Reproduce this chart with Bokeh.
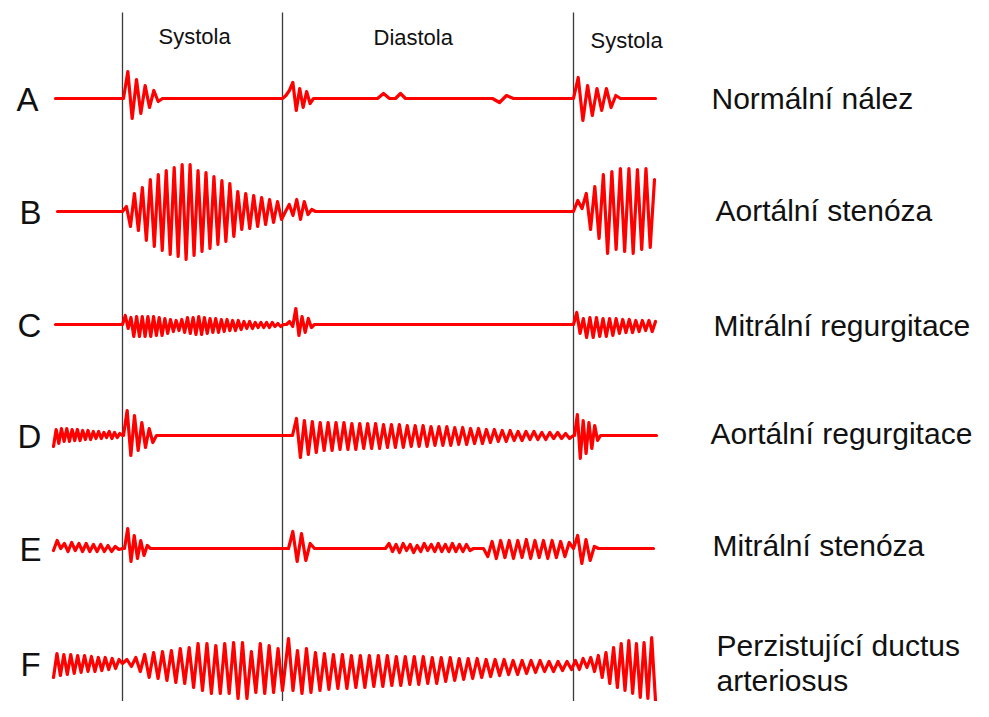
import numpy as np
from bokeh.plotting import figure
from bokeh.models import Range1d
from bokeh.core.properties import value
from bokeh.embed import file_html
from bokeh.resources import INLINE

# ---------------- data ----------------
# time axis expressed in the picture's horizontal units; each burst is
# (t_start, t_end, signed peak deflections spread evenly between them)
PHASE_BOUNDS = [122, 282, 573]
PHASE_NAMES = ["Systola", "Diastola", "Systola"]

ROW_LETTERS = ["A", "B", "C", "D", "E", "F"]
ROW_LABELS = ["Normální nález", "Aortální stenóza", "Mitrální regurgitace",
              "Aortální regurgitace", "Mitrální stenóza",
              "Perzistující ductus\narteriosus"]

ROW_A = [
    (55, 123, [0, 0]),
    (123, 162, [0, 27, -20, 19, -15, 13, -9, 8, -3, 0]),
    (282, 313, [0, 3, 8, 16, -12, 10, -9, 7, -5, 0]),
    (377, 389, [0, 5, 0]),
    (395, 405, [0, 5, 0]),
    (492, 513, [0, -4, 3, 0]),
    (573, 620, [0, 21, -22, 13, -17, 10, -12, 10, -9, 3, 0]),
    (655, 655, [0]),
]
ROW_B = [
    (57, 122, [0, 0]),
    (122, 285, [0, 5, -15, 18, -19, 24, -29, 32, -35, 37, -39, 41, -43, 44, -45,
                47, -48, 47, -44, 41, -40, 39, -37, 35, -33, 31, -30, 28, -25, 20,
                -18, 18, -17, 16, -15, 14, -13, 12, -11, 10, -8, 0]),
    (285, 315, [0, 7, -4, 12, -8, 10, -3, 2, 0]),
    (573, 654, [0, 11, 3, 18, -18, 25, -27, 37, -42, 40, -38, 43, -40, 43, -42,
                42, -38, 43, -36, 32]),
]
ROW_C = [
    (55, 122, [0, 0]),
    (122, 283, [0, 9, -4, 7, -12, 8, -12, 8, -12, 8, -12,
                8, -11, 7, -11, 6, -9, 5, -7, 4, -6,
                5, -8, 7, -9, 7, -10, 8, -10, 7, -9,
                6, -8, 6, -8, 5, -7, 5, -6, 4, -6,
                4, -5, 3, -4, 3, -4, 2, -3, 2, -3,
                2, -3, 2, -2, 1, -2, 0]),
    (286, 314, [0, 3, -2, 16, -11, 8, -8, 6, -3, 0]),
    (573, 655, [0, 12, -9, 6, -13, 7, -13, 7, -12, 6, -12, 6, -11, 6, -9, 5, -8,
                5, -8, 4, -7, 4, -6, 4, -7, 3]),
]
ROW_D = [
    (53, 122, [-11, 6, -8, 7, -6, 7, -6, 6, -5, 6, -5, 5, -4, 5, -4, 4, -3, 4,
               -3, 3, -2, 4, -3, 3, -2, 2, 0]),
    (123, 156, [0, 25, -20, 20, -15, 13, -12, 7, -7, 0]),
    (292, 573, [0,
                17, -22, 15, -19, 14, -17, 13, -15, 13, -15, 13, -14, 13, -14, 12, -14, 12, -13, 12, -13,
                12, -13, 11, -12, 11, -12, 11, -12, 10, -11, 10, -11, 10, -11, 9, -10, 9, -10, 9, -10,
                8, -9, 8, -9, 7, -8, 7, -8, 6, -7, 6, -6, 5, -6, 5, -5, 4, -5, 4, -4,
                4, -4, 3, -4, 3, -3, 3, -3, 2, -3,
                0]),
    (574, 600, [0, 21, -23, 15, -18, 13, -13, 10, -5, 0]),
    (656, 656, [0]),
]
ROW_E = [
    (53, 122, [-2, 8, 0, 5, -3, 6, -2, 5, -3, 5, -3, 4, -3, 4, -3, 3, -3, 2, -1, 0]),
    (124, 150, [0, 20, -13, 13, -10, 8, -7, 3, 0]),
    (288, 314, [0, 17, -13, 15, -12, 5, 0]),
    (385, 473, [0, 5, -3, 4, -4, 5, -2, 4, -4, 3, -3, 5, -2, 4, -3, 5, -3, 4, -3,
                5, -3, 4, -3, 4, -2, 0]),
    (483, 573, [0, -8, 7, -10, 8, -9, 8, -10, 8, -9, 9, -10, 8, -9, 8, -10, 8, -9,
                7, -8, 6, 0]),
    (573, 598, [0, 13, -15, 9, -12, 2, 0]),
    (653, 653, [0]),
]
ROW_F = [
    (53, 122, [-14, 10, -12, 9, -11, 9, -10, 8, -9, 8, -8, 7, -8, 6, -7, 6, -6,
               5, -5, 4, 0]),
    (122, 282, [0, 4, -3, 6, -8, 9, -14, 11, -15, 12, -17, 13, -19, 15, -20, 16,
                -24, 20, -27, 20, -30, 18, -30, 20, -30, 21, -35, 21, -35, 12, -29,
                20, -30, 18, -29, 15, -27]),
    (288, 571, [25, -27, 13, -30, 15, -29, 11, -27, 10, -26, 9, -25, 9, -25, 8, -24,
                8, -24, 8, -23, 8, -23, 8, -22, 7, -22, 7, -21, 7, -21, 7, -20,
                6, -20, 6, -18, 6, -17, 5, -16, 5, -15, 5, -14, 4, -13, 4, -12,
                4, -11, 3, -11, 3, -10, 3, -9, 3, -8, 2, -8, 2, -7, 2, -6]),
    (575, 655, [3, -6, 5, -4, 6, -8, 8, -14, 11, -20, 16, -24, 20, -27, 23, -30,
                20, -34, 21, -35, 26, -37]),
]
ROWS = [ROW_A, ROW_B, ROW_C, ROW_D, ROW_E, ROW_F]

# ---------------- layout ----------------
ROW_BASE = [98, 211, 324, 435, 548, 663]
LETTER_X = [16, 19, 17, 17, 19, 20]
LETTER_DY = 1
LABEL_X = [711, 715, 713, 710, 712, 716]
LABEL_Y = [98, 210, 325, 433, 545, 645]
LABEL_LINE = 35
PHASE_X = [158, 373, 590]
PHASE_Y = [36, 37, 40]

W, H = 973, 701
p = figure(width=W, height=H, output_backend="svg", toolbar_location=None,
           x_range=Range1d(0, W), y_range=Range1d(H, 0),
           min_border=0)
p.axis.visible = False
p.grid.visible = False
p.outline_line_color = None
p.background_fill_color = "white"
p.border_fill_color = "white"

# phase boundaries
p.segment(x0=PHASE_BOUNDS, x1=PHASE_BOUNDS, y0=[12] * 3, y1=[H] * 3,
          line_color="#3a3a3a", line_width=1.3)

# waveforms
for bursts, base in zip(ROWS, ROW_BASE):
    xs, ys = [], []
    for t0, t1, offs in bursts:
        xs.extend(np.linspace(t0, t1, len(offs)).tolist())
        ys.extend((base - np.asarray(offs, dtype=float)).tolist())
    p.line(xs, ys, line_color="#ff0000", line_width=3.2, line_join="round",
           line_cap="round")

font = value("Liberation Sans")

# phase names
p.text(x=PHASE_X, y=PHASE_Y, text=PHASE_NAMES, text_font=font,
       text_font_size="22px", text_color="#111111", text_baseline="alphabetic",
       text_align="left")

# row letters
p.text(x=LETTER_X, y=[b + LETTER_DY for b in ROW_BASE], text=ROW_LETTERS,
       text_font=font, text_font_size="33px", text_color="#111111",
       text_baseline="alphabetic", text_align="left")

# right-hand labels
lx, ly, lt = [], [], []
for label, x, y in zip(ROW_LABELS, LABEL_X, LABEL_Y):
    for i, line in enumerate(label.split("\n")):
        lx.append(x)
        ly.append(y + i * LABEL_LINE)
        lt.append(line)
p.text(x=lx, y=ly, text=lt, text_font=font, text_font_size="30px",
       text_color="#111111", text_baseline="alphabetic", text_align="left")

open("out.html", "w").write(file_html(p, INLINE))
